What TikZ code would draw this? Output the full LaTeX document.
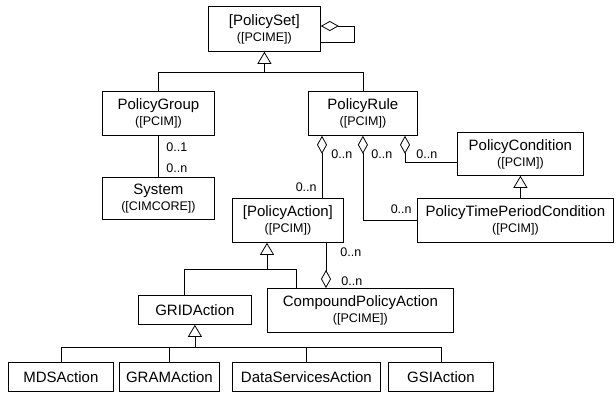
\documentclass[tikz,border=0pt]{standalone}
\usepackage{fontspec}
\setmainfont{Liberation Sans}
\usetikzlibrary{arrows.meta,calc}
\begin{document}
\begin{tikzpicture}[x=1pt,y=-1pt,line width=0.8pt,
  box/.style={draw,anchor=north west,inner sep=0pt,align=center,
    font=\fontsize{15}{16}\selectfont},
  sub/.style={},
  mult/.style={font=\fontsize{12.5}{14}\selectfont,inner sep=0pt},
  inh/.style={-{Triangle[open,length=12pt,width=14pt]}},
  aggstart/.style={{Diamond[open,length=18pt,width=10pt]}-},
  aggend/.style={-{Diamond[open,length=18pt,width=10pt]}}]
\newcommand{\subl}[1]{{\fontsize{12.5}{16}\selectfont #1}}
\useasboundingbox (0,0) rectangle (616,394);
% boxes
\node[box,minimum width=112pt,minimum height=45pt] (set) at (208,6) {[PolicySet]\\\subl{([PCIME])}};
\node[box,minimum width=112pt,minimum height=44pt] (group) at (102,91) {PolicyGroup\\\subl{([PCIM])}};
\node[box,minimum width=109pt,minimum height=44pt] (rule) at (308,91) {PolicyRule\\\subl{([PCIM])}};
\node[box,minimum width=112pt,minimum height=42pt] (system) at (102,177) {System\\\subl{([CIMCORE])}};
\node[box,minimum width=126pt,minimum height=43pt] (cond) at (457,132) {PolicyCondition\\\subl{([PCIM])}};
\node[box,minimum width=111pt,minimum height=44pt] (action) at (232,198) {[PolicyAction]\\\subl{([PCIM])}};
\node[box,minimum width=196pt,minimum height=44pt] (ptpc) at (417,198) {PolicyTimePeriodCondition\\\subl{([PCIM])}};
\node[box,minimum width=113pt,minimum height=29pt] (grid) at (138,295) {GRIDAction};
\node[box,minimum width=186pt,minimum height=44pt] (cpa) at (267,288) {CompoundPolicyAction\\\subl{([PCIME])}};
\node[box,minimum width=105pt,minimum height=29pt] (mds) at (8,362) {MDSAction};
\node[box,minimum width=100pt,minimum height=29pt] (gram) at (119,362) {GRAMAction};
\node[box,minimum width=148pt,minimum height=29pt] (ds) at (232,362) {DataServicesAction};
\node[box,minimum width=105pt,minimum height=29pt] (gsi) at (388,362) {GSIAction};
% self aggregation of PolicySet
\coordinate (sl1) at (354,26);
\coordinate (sl2) at (354,42);
\draw[aggstart] (set.east |- sl1) -- (sl1) -- (sl2) -- (set.east |- sl2);
% inheritance from PolicySet
\coordinate (b1) at ($(set.south)+(0,21)$);
\draw[inh] (b1) -- (set.south);
\draw (group.north) |- (b1) -| (rule.north);
% PolicyGroup - System
\draw (group.south) -- (system.north);
\node[mult,anchor=west] (m1) at (166,147) {0..1};
\node[mult,anchor=west] (m2) at (166,168) {0..n};
% PolicyRule aggregations
\coordinate (c1) at (322,0);
\draw[aggstart] (rule.south -| c1) -- (action.north -| c1);
\draw[aggstart] (rule.south) |- (ptpc.west);
\coordinate (c3) at (405,162);
\draw[aggstart] (rule.south -| c3) -- (c3) -- (cond.west |- c3);
\node[mult,anchor=west] (m3) at (331,154) {0..n};
\node[mult,anchor=west] (m4) at (371,154) {0..n};
\node[mult,anchor=west] (m5) at (416,154) {0..n};
\node[mult,anchor=east] (m6) at (317,187) {0..n};
\node[mult,anchor=east] (m7) at (412,209) {0..n};
% PolicyCondition <- PolicyTimePeriodCondition
\draw[inh] (ptpc.north -| cond.south) -- (cond.south);
% PolicyAction inheritance
\coordinate (b2) at (267,269);
\coordinate (b2l) at (184,269);
\coordinate (b2r) at (296,269);
\draw[inh] (b2) -- (action.south -| b2);
\draw (grid.north -| b2l) -- (b2l) -- (b2r) -- (cpa.north -| b2r);
% PolicyAction - CompoundPolicyAction aggregation
\coordinate (c4) at (326,0);
\draw[aggend] (action.south -| c4) -- (cpa.north -| c4);
\node[mult,anchor=west] (m8) at (340,252) {0..n};
\node[mult,anchor=west] (m9) at (341,281) {0..n};
% GRIDAction inheritance
\coordinate (b3) at ($(grid.south)+(0,23)$);
\draw[inh] (b3) -- (grid.south);
\draw (mds.north) |- (b3) -| (gsi.north);
\draw (gram.north) -- (gram.north |- b3);
\draw (ds.north) -- (ds.north |- b3);
\end{tikzpicture}
\end{document}
